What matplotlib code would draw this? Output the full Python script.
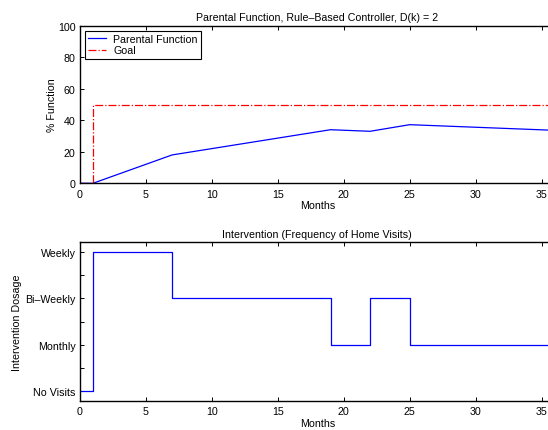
import numpy as np
import matplotlib
matplotlib.use('Agg')
import matplotlib.pyplot as plt

plt.rcParams['font.family'] = ['Liberation Sans', 'DejaVu Sans']
plt.rcParams['font.size'] = 7.7

# Parental function (% function) at breakpoint months
pf_months = [0, 1, 7, 19, 22, 25, 36]
pf_values = [0, 0, 18, 34, 33, 37.2, 33.6]

# Goal trajectory
goal_months = [0, 1, 1, 36]
goal_values = [0, 0, 50, 50]

# Intervention dosage (0=No Visits, 1=Monthly, 2=Bi-Weekly, 3=Weekly)
dose_months = [0, 1, 7, 19, 22, 25, 36]
dose_levels = [0, 3, 2, 1, 2, 1, 1]
dose_labels = ['No Visits', 'Monthly', 'Bi\u2013Weekly', 'Weekly']

fig = plt.figure(figsize=(5.48, 4.31), dpi=100)
W, H = 548, 431

def pos(left, top, right, bottom):
    return [left / W, 1 - bottom / H, (right - left) / W, (bottom - top) / H]

right_px = 79.7 + 36 * 13.2

# Top panel
ax1 = fig.add_axes(pos(79.7, 26.7, right_px, 184.3))
ax1.plot(pf_months, pf_values, color='blue', lw=0.9, label='Parental Function')
ax1.plot(goal_months, goal_values, color='red', lw=0.9, ls='-.', label='Goal')
ax1.set_xlim(0, 36)
ax1.set_ylim(0, 100)
ax1.set_xticks(range(0, 40, 5))
ax1.set_yticks(range(0, 101, 20))
ax1.set_title('Parental Function, Rule\u2013Based Controller, D(k) = 2', fontsize=7.7, pad=4)
ax1.set_xlabel('Months', labelpad=1)
ax1.set_ylabel('% Function', labelpad=1)
leg = ax1.legend(loc='upper left', fancybox=False, framealpha=1, edgecolor='black',
                 borderaxespad=0.45, handlelength=1.7, borderpad=0.3, labelspacing=0.15,
                 handletextpad=0.7)
leg.get_frame().set_linewidth(0.8)

# Bottom panel
ax2 = fig.add_axes(pos(79.7, 243.3, right_px, 401.7))
ax2.plot(dose_months, dose_levels, color='blue', lw=0.9, drawstyle='steps-post')
ax2.set_xlim(0, 36)
ax2.set_ylim(-0.2, 3.2)
ax2.set_xticks(range(0, 40, 5))
ax2.set_yticks([0, 1, 2, 3])
ax2.set_yticklabels(dose_labels)
ax2.set_yticks([0.5, 1.5, 2.5], minor=True)
ax2.set_title('Intervention (Frequency of Home Visits)', fontsize=7.7, pad=4)
ax2.set_xlabel('Months', labelpad=1)
ax2.set_ylabel('Intervention Dosage', labelpad=2)

for ax in (ax1, ax2):
    ax.tick_params(which='both', direction='in', top=True, right=True, length=3, width=0.7)
    ax.tick_params(axis='x', which='both', pad=4)
    ax.tick_params(axis='y', which='both', pad=3)
    for s in ax.spines.values():
        s.set_linewidth(1.0)

fig.savefig('out.png', dpi=100)
